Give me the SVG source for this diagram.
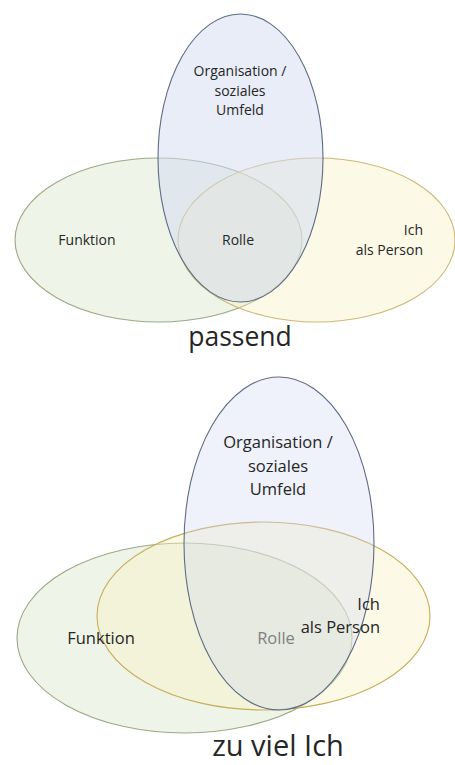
<svg xmlns="http://www.w3.org/2000/svg" width="455" height="765" viewBox="0 0 455 765">
<style>
.t{font-family:"Open Sans","Noto Sans",sans-serif;fill:#262626}
.s{font-size:14px}
.m{font-size:16.5px}
.g{fill:#d9e8cc;fill-opacity:0.45}
.y{fill:#fbefc4;fill-opacity:0.4}
.b{fill:#d2dbf2;fill-opacity:0.5}
.gs{stroke:#9aa985;stroke-width:1.1}
.ys{stroke:#cdb878;stroke-width:1.1}
.bs{stroke:#5d6b86;stroke-width:1.1}
</style>
<rect width="455" height="765" fill="#ffffff"/>
<g id="passend">
<g id="p-funktion"><ellipse class="g gs" cx="158.5" cy="240" rx="143.5" ry="82"/></g>
<g id="p-ich"><ellipse class="y ys" cx="316.5" cy="240" rx="138.5" ry="82"/></g>
<g id="p-organisation"><ellipse class="b bs" cx="240.5" cy="158" rx="82.5" ry="144"/></g>
<text class="t s" x="240" y="76" text-anchor="middle">Organisation /</text>
<text class="t s" x="240" y="96" text-anchor="middle">soziales</text>
<text class="t s" x="240" y="115" text-anchor="middle">Umfeld</text>
<text class="t s" x="87" y="245" text-anchor="middle">Funktion</text>
<text class="t s" x="238" y="245" text-anchor="middle">Rolle</text>
<text class="t s" x="423" y="235" text-anchor="end">Ich</text>
<text class="t s" x="423" y="255" text-anchor="end">als Person</text>
<text class="t" x="240" y="346" text-anchor="middle" font-size="26.5">passend</text>
</g>
<g id="zuviel">
<g id="z-funktion"><ellipse class="g gs" cx="184.5" cy="638" rx="167.5" ry="95"/></g>
<g id="z-ich"><ellipse class="y" cx="263.5" cy="616" rx="166.5" ry="94" style="stroke:#c9ad5a;stroke-width:1.1"/></g>
<g id="z-organisation"><ellipse class="b bs" cx="279" cy="543.5" rx="95" ry="166.5" style="fill-opacity:0.35"/></g>
<text class="t m" x="278" y="448" text-anchor="middle">Organisation /</text>
<text class="t m" x="278" y="472" text-anchor="middle">soziales</text>
<text class="t m" x="278" y="495" text-anchor="middle">Umfeld</text>
<text class="t m" x="101" y="644" text-anchor="middle">Funktion</text>
<text class="t m" x="276" y="644" text-anchor="middle" style="fill:#808080">Rolle</text>
<text class="t m" x="380" y="610" text-anchor="end">Ich</text>
<text class="t m" x="380" y="633" text-anchor="end">als Person</text>
<text class="t" x="278" y="756" text-anchor="middle" font-size="29">zu viel Ich</text>
</g>
</svg>
